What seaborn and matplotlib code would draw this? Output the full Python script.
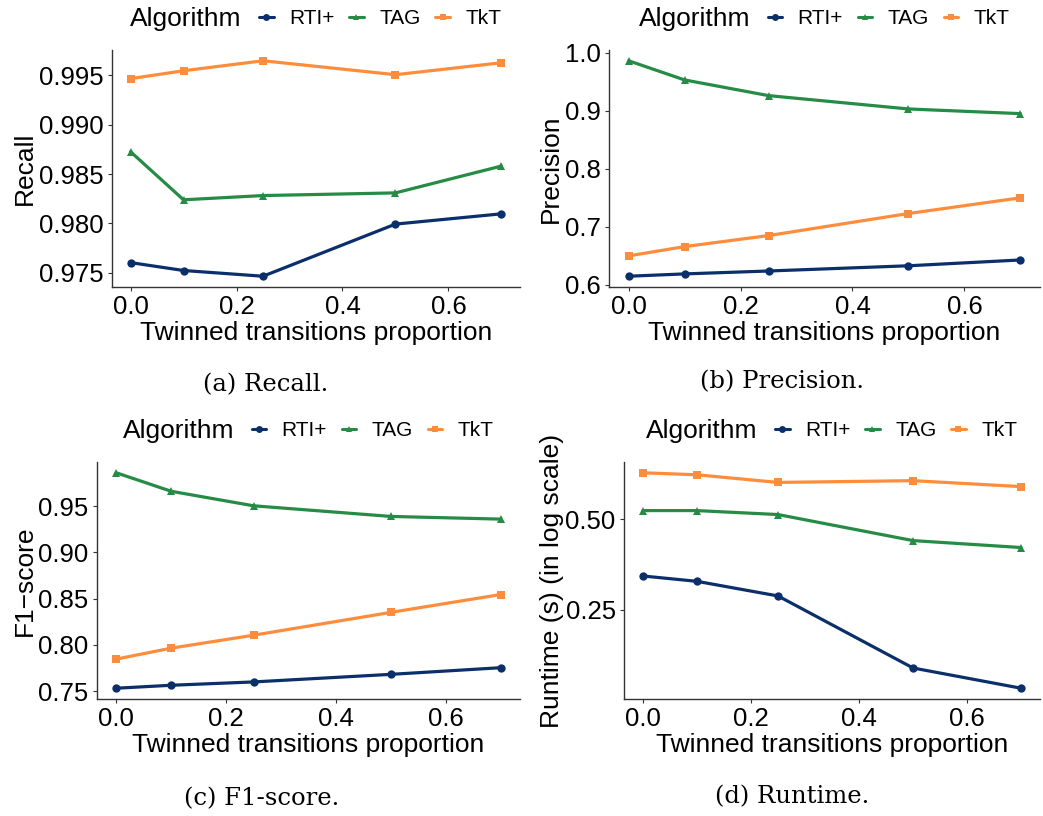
import numpy as np
import pandas as pd
import matplotlib
matplotlib.use("Agg")
import matplotlib.pyplot as plt
import seaborn as sns
from matplotlib.lines import Line2D
from matplotlib.ticker import FormatStrFormatter, FixedLocator, NullLocator

# data
proportion = [0.0, 0.1, 0.25, 0.5, 0.7]
algorithms = ['RTI+', 'TAG', 'TkT']

recall_rti = [0.97604, 0.97524, 0.97466, 0.97994, 0.98098]
recall_tag = [0.98727, 0.98240, 0.98283, 0.98310, 0.98582]
recall_tkt = [0.99467, 0.99547, 0.99648, 0.99507, 0.99628]

precision_rti = [0.615, 0.619, 0.624, 0.633, 0.643]
precision_tag = [0.986, 0.953, 0.926, 0.903, 0.895]
precision_tkt = [0.650, 0.666, 0.685, 0.723, 0.750]

f1_rti = [0.7532, 0.7564, 0.7600, 0.7682, 0.7754]
f1_tag = [0.9861, 0.9661, 0.9504, 0.9389, 0.9360]
f1_tkt = [0.7847, 0.7965, 0.8105, 0.8352, 0.8545]

runtime_rti = [0.324, 0.311, 0.278, 0.160, 0.137]
runtime_tag = [0.535, 0.535, 0.519, 0.425, 0.403]
runtime_tkt = [0.715, 0.704, 0.664, 0.673, 0.643]

colors = ['#0b2f6b', '#258b45', '#fd8d3c']
markers = ['o', '^', 's']

rows = []
for alg, rc, pr, f1, rt in zip(algorithms,
                               [recall_rti, recall_tag, recall_tkt],
                               [precision_rti, precision_tag, precision_tkt],
                               [f1_rti, f1_tag, f1_tkt],
                               [runtime_rti, runtime_tag, runtime_tkt]):
    for i in range(len(proportion)):
        rows.append([alg, proportion[i], rc[i], pr[i], f1[i], rt[i]])
df = pd.DataFrame(rows, columns=['Algorithm', 'proportion', 'Recall', 'Precision', 'F1', 'Runtime'])

sns.set_style("ticks")
plt.rcParams['font.family'] = ['Liberation Sans', 'DejaVu Sans']
plt.rcParams['text.color'] = 'black'
plt.rcParams['axes.labelcolor'] = 'black'

W, H = 1043, 816
fig = plt.figure(figsize=(W / 100, H / 100), dpi=100)

# col, ylabel, caption, axes box in px (l, t, r, b), yticks, fmt, log, caption centre, ylabel right edge px
panels = [
    ('Recall', 'Recall', '(a) Recall.', (112, 50, 520, 287),
     [0.975, 0.980, 0.985, 0.990, 0.995], '%.3f', False, (266, 385), 37),
    ('Precision', 'Precision', '(b) Precision.', (609, 50, 1040, 287),
     [0.6, 0.7, 0.8, 0.9, 1.0], '%.1f', False, (782, 382), 563),
    ('F1', 'F1\u2212score', '(c) F1-score.', (97, 462, 520, 699),
     [0.75, 0.80, 0.85, 0.90, 0.95], '%.2f', False, (262, 799), 37),
    ('Runtime', 'Runtime (s) (in log scale)', '(d) Runtime.', (624, 462, 1040, 699),
     [0.25, 0.50], '%.2f', True, (792, 797), 564),
]

handles = [Line2D([], [], color=c, marker=m, lw=2.2, markersize=5, markeredgewidth=0)
           for c, m in zip(colors, markers)]

for col, ylab, cap, (l, t, r, b), yt, fmt, logy, (capx, capy), labx in panels:
    ax = fig.add_axes([l / W, 1 - b / H, (r - l) / W, (b - t) / H])
    sns.lineplot(data=df, x='proportion', y=col, hue='Algorithm', style='Algorithm',
                 markers=markers, dashes=False, palette=colors, linewidth=2.3,
                 markersize=6, markeredgewidth=0, legend=False, ax=ax)
    if logy:
        ax.set_yscale('log')
    ax.margins(x=0.05, y=0.05)
    ax.autoscale_view()
    ax.yaxis.set_major_locator(FixedLocator(yt))
    ax.yaxis.set_minor_locator(NullLocator())
    ax.yaxis.set_major_formatter(FormatStrFormatter(fmt))
    ax.set_xticks([0.0, 0.2, 0.4, 0.6])
    ax.xaxis.set_major_formatter(FormatStrFormatter('%.1f'))
    sns.despine(ax=ax)
    for s in ['left', 'bottom']:
        ax.spines[s].set_color('#333333')
        ax.spines[s].set_linewidth(1.0)
    ax.tick_params(axis='both', direction='out', length=3, width=0.8, color='#333333',
                   labelsize=18.5, labelcolor='black', pad=3)
    ax.set_xlabel('Twinned transitions proportion', fontsize=19, labelpad=1.5)
    ax.set_ylabel(ylab, fontsize=19)
    ax.yaxis.set_label_coords((labx - l) / (r - l), 0.5)

    # legend on top: title on the left, then keys
    cx = (l + r) / 2
    ly = t - 31
    fig.text((cx - 186) / W, 1 - ly / H, 'Algorithm', fontsize=19, ha='left', va='center')
    fig.legend(handles, algorithms, loc='center left',
               bbox_to_anchor=((cx - 57) / W, 1 - ly / H), bbox_transform=fig.transFigure,
               ncol=3, frameon=False, borderpad=0, borderaxespad=0, fontsize=15,
               handlelength=0.7, handletextpad=0.75, columnspacing=0.7)

    fig.text(capx / W, 1 - capy / H, cap, fontsize=17.5, family='DejaVu Serif',
             ha='center', va='center')

fig.savefig('out.png', dpi=100)
